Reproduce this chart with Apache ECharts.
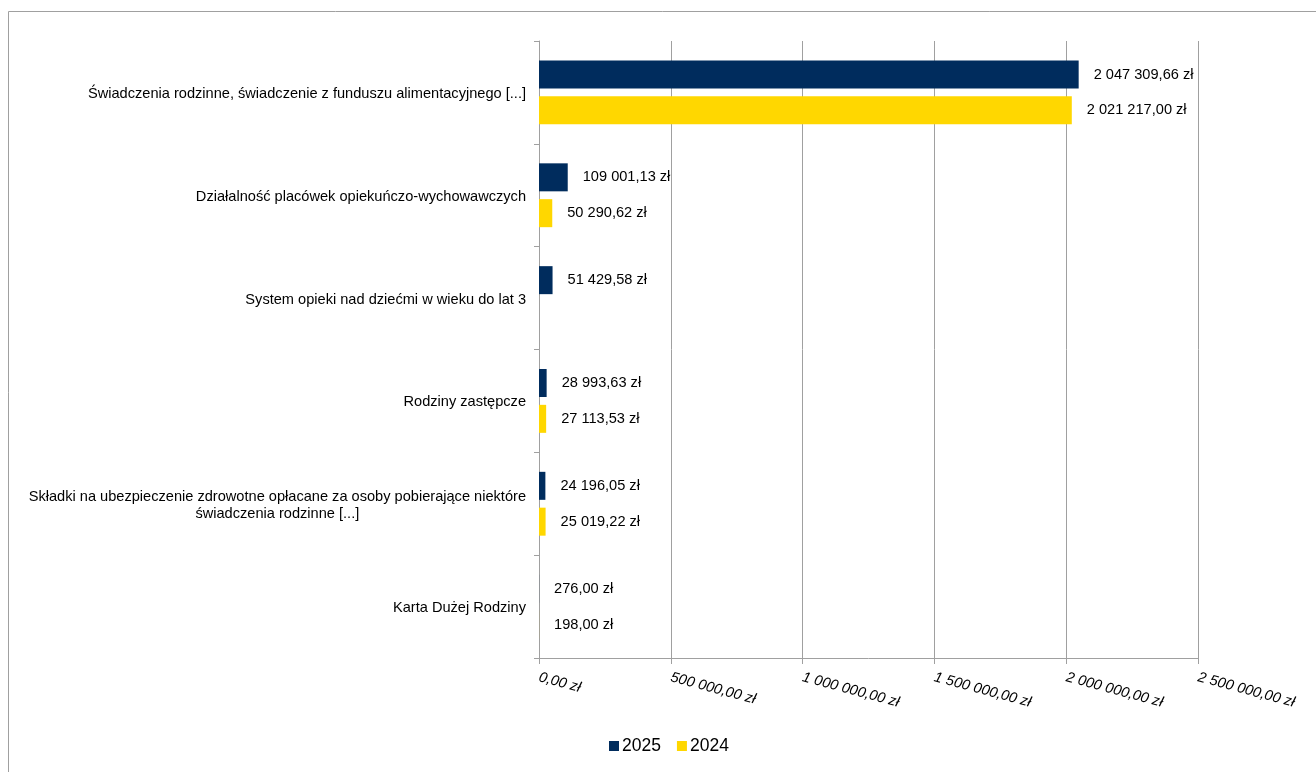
<!DOCTYPE html>
<html>
<head>
<meta charset="utf-8">
<script src="https://cdn.jsdelivr.net/npm/echarts@6/dist/echarts.min.js"></script>
<style>
html,body{margin:0;padding:0;background:#fff;}
#chart{width:1316px;height:772px;}
</style>
</head>
<body>
<div id="chart"></div>
<script>
const categories = [
  "Świadczenia rodzinne, świadczenie z funduszu alimentacyjnego [...]",
  "Działalność placówek opiekuńczo-wychowawczych",
  "System opieki nad dziećmi w wieku do lat 3",
  "Rodziny zastępcze",
  "Składki na ubezpieczenie zdrowotne opłacane za osoby pobierające niektóre\nświadczenia rodzinne [...]",
  "Karta Dużej Rodziny"
];
const values2025 = [2047309.66, 109001.13, 51429.58, 28993.63, 24196.05, 276.00];
const values2024 = [2021217.00, 50290.62, null, 27113.53, 25019.22, 198.00];
const xTicks = { min: 0, max: 2500000, interval: 500000 };

function fmt(v) {
  const parts = v.toFixed(2).split('.');
  const int = parts[0].replace(/\B(?=(\d{3})+(?!\d))/g, ' ');
  return int + ',' + parts[1] + ' zł';
}

const font = '"Liberation Sans", Arial, sans-serif';
const fs = 14.6;
const chart = echarts.init(document.getElementById('chart'));
chart.setOption({
  animation: false,
  textStyle: { fontFamily: font },
  graphic: [{
    type: 'rect', silent: true,
    shape: { x: 8.5, y: 11.5, width: 1500, height: 1000 },
    style: { fill: 'none', stroke: '#a0a0a0', lineWidth: 1 }
  }],
  grid: { left: 539, right: 118, top: 41, bottom: 114, containLabel: false },
  legend: {
    top: 737, left: 609, padding: 0,
    icon: 'rect', itemWidth: 10, itemHeight: 10, itemGap: 16,
    textStyle: { fontSize: 17.5, color: '#000', fontFamily: font, padding: [0, 0, 0, -2] },
    data: ['2025', '2024']
  },
  xAxis: {
    type: 'value',
    min: xTicks.min, max: xTicks.max, interval: xTicks.interval,
    axisLine: { show: true, lineStyle: { color: '#a0a0a0' } },
    axisTick: { show: true, length: 6, lineStyle: { color: '#a0a0a0' } },
    splitLine: { show: true, lineStyle: { color: '#a0a0a0', width: 1 } },
    axisLabel: {
      rotate: -15, margin: 19, fontSize: fs, fontStyle: 'italic', color: '#000',
      fontFamily: font, formatter: v => fmt(v)
    }
  },
  yAxis: {
    type: 'category', inverse: true, data: categories,
    axisLine: { show: true, lineStyle: { color: '#a0a0a0' } },
    axisTick: { show: true, length: 5, lineStyle: { color: '#a0a0a0' } },
    axisLabel: {
      margin: 13, fontSize: fs, color: '#000', fontFamily: font, lineHeight: 17,
      padding: [3, 0, 0, 0],
      formatter: v => v.split('\n').map(s => '{c|' + s + '}').join('\n'),
      rich: { c: { align: 'center', fontSize: fs, color: '#000', fontFamily: font, lineHeight: 17 } }
    }
  },
  series: [
    {
      name: '2025', type: 'bar', data: values2025,
      barWidth: 28, barGap: '28%',
      itemStyle: { color: '#002C5D' },
      label: { show: true, position: 'right', distance: 15, fontSize: fs, color: '#000', fontFamily: font,
        formatter: p => p.value == null ? '' : fmt(p.value) }
    },
    {
      name: '2024', type: 'bar', data: values2024,
      barWidth: 28,
      itemStyle: { color: '#FFD700' },
      label: { show: true, position: 'right', distance: 15, fontSize: fs, color: '#000', fontFamily: font,
        formatter: p => p.value == null ? '' : fmt(p.value) }
    }
  ]
});
</script>
</body>
</html>
